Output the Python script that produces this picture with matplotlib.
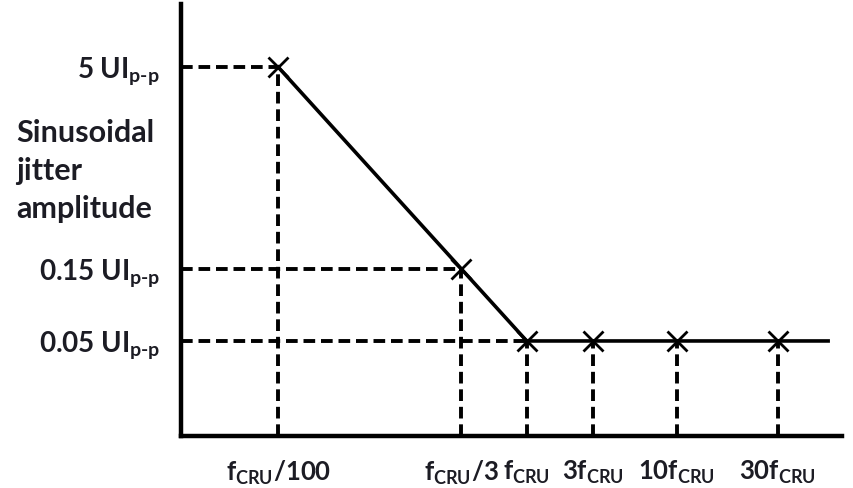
import matplotlib
matplotlib.use("Agg")
import matplotlib.pyplot as plt

plt.rcParams['font.family'] = ['Lato', 'DejaVu Sans']
plt.rcParams['font.weight'] = 'bold'
plt.rcParams['mathtext.fontset'] = 'custom'
plt.rcParams['mathtext.rm'] = 'Lato:bold'
plt.rcParams['mathtext.it'] = 'Lato:bold'
plt.rcParams['mathtext.bf'] = 'Lato:bold'

# Schematic data (positions along the schematic log axes)
freq_labels = [r'f$_{\mathrm{CRU}}$/100', r'f$_{\mathrm{CRU}}$/3', r'f$_{\mathrm{CRU}}$',
               r'3f$_{\mathrm{CRU}}$', r'10f$_{\mathrm{CRU}}$', r'30f$_{\mathrm{CRU}}$']
freq_pos = [1.47, 4.24, 5.23, 6.23, 7.50, 9.03]
amp_pos = [8.54, 3.87, 2.20, 2.20, 2.20, 2.20]
amp_labels = [r'5 UI$_{\mathrm{p\text{-}p}}$', r'0.15 UI$_{\mathrm{p\text{-}p}}$', r'0.05 UI$_{\mathrm{p\text{-}p}}$']
amp_label_pos = [8.54, 3.87, 2.20]
line_end = 9.79
ylabel_lines = ['Sinusoidal', 'jitter', 'amplitude']

fig = plt.figure(figsize=(8.54, 4.89), dpi=100)
ax = fig.add_axes([181/854, 52/489, (842-181)/854, (437-5)/489])
ax.set_xlim(0, 10)
ax.set_ylim(0, 10)

for s in ['top', 'right']:
    ax.spines[s].set_visible(False)
for s in ['left', 'bottom']:
    ax.spines[s].set_linewidth(3.2)
    ax.spines[s].set_color('black')
ax.set_xticks([])
ax.set_yticks([])

dash = (0, (3.0, 1.5))
# horizontal dashed guides
for i in range(3):
    ax.plot([0, freq_pos[i]], [amp_pos[i], amp_pos[i]], color='black', lw=2.8,
            linestyle=dash, zorder=2)
# vertical dashed guides
for xp, yp in zip(freq_pos, amp_pos):
    ax.plot([xp, xp], [0, yp], color='black', lw=2.8, linestyle=dash, zorder=2)

# main curve
ax.plot(freq_pos + [line_end], amp_pos + [amp_pos[-1]], color='black', lw=2.6, zorder=3)
ax.plot(freq_pos, amp_pos, linestyle='none', marker='x', markersize=15,
        markeredgewidth=2.0, color='black', zorder=4)

txt_color = '#1c1c24'
for lab, yp in zip(amp_labels, amp_label_pos):
    ax.annotate(lab, xy=(0, yp), xycoords='data', xytext=(-15, -7), textcoords='offset points',
                ha='right', va='baseline', fontsize=20, color=txt_color, annotation_clip=False)

for i, t in enumerate(ylabel_lines):
    fig.text(16/854, 1 - (133 + 38*i)/489, t, ha='left', va='center', fontsize=22,
             color=txt_color)

for lab, xp in zip(freq_labels, freq_pos):
    ax.text(xp, -0.5, lab, ha='center', va='top', fontsize=18.5, color=txt_color,
            clip_on=False)

fig.savefig('out.png', dpi=100)
